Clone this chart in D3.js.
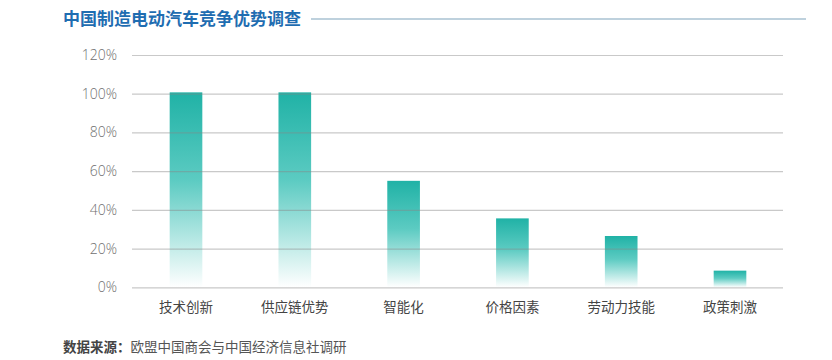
<!DOCTYPE html>
<html><head><meta charset="utf-8">
<script src="https://cdn.jsdelivr.net/npm/d3@7"></script>
<style>body{margin:0;background:#fff;} svg{display:block;font-family:"Noto Sans CJK SC","Noto Sans",sans-serif;}</style>
</head><body>
<svg id="c" width="832" height="360"></svg>
<script>
const categories = ["技术创新","供应链优势","智能化","价格因素","劳动力技能","政策刺激"];
const values = [100.7, 100.7, 55, 35.6, 26.5, 8.6];
const yTicks = [0, 20, 40, 60, 80, 100, 120];
const title = "中国制造电动汽车竞争优势调查";
const sourceLabel = "数据来源：";
const sourceText = "欧盟中国商会与中国经济信息社调研";

const svg = d3.select("#c");
const x = d3.scaleBand().domain(categories).range([131.6, 784.4]).paddingInner(0.7).paddingOuter(0.35);
const y = d3.scaleLinear().domain([0, 120]).range([287.3, 55]);

const defs = svg.append("defs");
const grad = defs.append("linearGradient").attr("id","g").attr("x1",0).attr("x2",0).attr("y1",0).attr("y2",1);
grad.append("stop").attr("offset","0%").attr("stop-color","#20b2a6");
grad.append("stop").attr("offset","45%").attr("stop-color","#5ccbc2");
grad.append("stop").attr("offset","100%").attr("stop-color","#ffffff");

// title
svg.append("text").attr("x",63).attr("y",25).attr("font-size",17).attr("font-weight","bold")
  .attr("fill","#1f6db1").text(title);
svg.append("line").attr("x1",311).attr("x2",806).attr("y1",19).attr("y2",19)
  .attr("stroke","#7fa3bb").attr("stroke-width",1.2);

// bars
svg.append("g").selectAll("rect").data(categories).join("rect")
  .attr("x", d => x(d)).attr("width", x.bandwidth())
  .attr("y", (d,i) => y(values[i])).attr("height", (d,i) => y(0) - y(values[i]))
  .attr("fill","url(#g)");

// grid via axis
const yAxis = d3.axisLeft(y).tickValues(yTicks).tickSize(-(783 - 132)).tickFormat(d => d + "%");
const ga = svg.append("g").attr("transform","translate(132,0)").call(yAxis);
ga.select(".domain").remove();
ga.selectAll(".tick line").attr("stroke","#888").attr("stroke-opacity",0.45).attr("stroke-width",1.2);
ga.selectAll(".tick text").attr("x",-15).attr("fill","#707070").attr("font-size",14)
  .attr("font-family","'Open Sans','Noto Sans',sans-serif").attr("font-weight",300);

// x labels
const xAxis = d3.axisBottom(x).tickSize(0).tickPadding(0);
const gx = svg.append("g").attr("transform","translate(0,302)").call(xAxis);
gx.select(".domain").remove();
gx.selectAll(".tick text").attr("fill","#444").attr("font-size",13.5).attr("dy","0.75em")
  .attr("font-family","'Noto Sans CJK SC',sans-serif");

// source
const st = svg.append("text").attr("x",63).attr("y",352).attr("font-size",13.5).attr("fill","#555");
st.append("tspan").attr("font-weight","bold").attr("fill","#444").text(sourceLabel);
st.append("tspan").text(sourceText);
</script>
</body></html>
